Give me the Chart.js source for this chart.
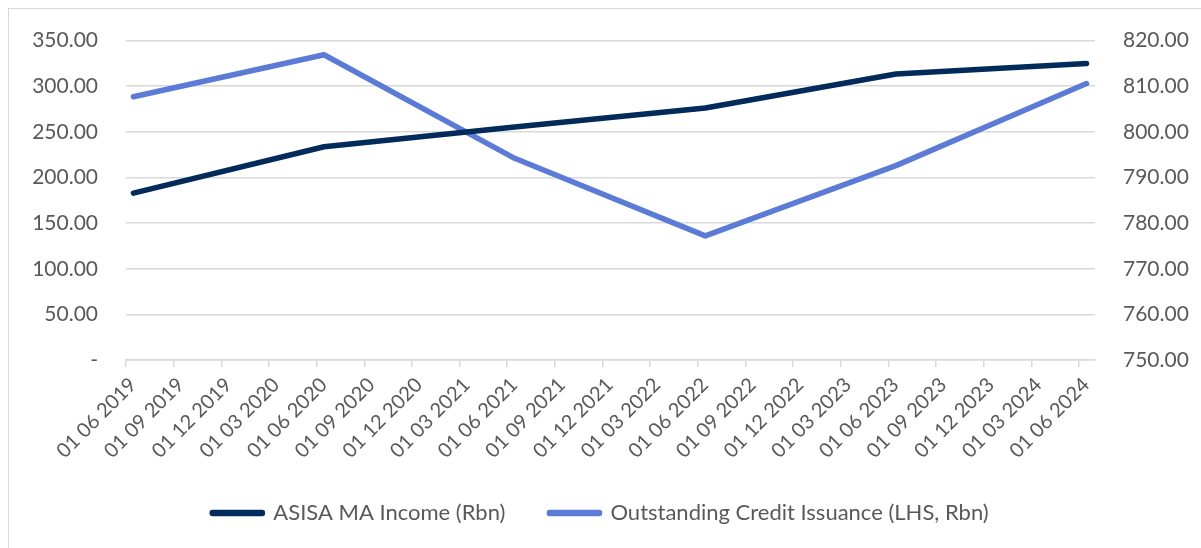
<!DOCTYPE html>
<html>
<head>
<meta charset="utf-8">
<script src="https://cdn.jsdelivr.net/npm/chart.js@4.4.1/dist/chart.umd.min.js"></script>
<style>
  html, body { margin: 0; padding: 0; background: #fff; }
  #wrap { position: relative; width: 1201px; height: 548px; overflow: hidden; }
  #frame { position: absolute; left: 8px; top: 8px; width: 1300px; height: 600px;
           border-left: 1px solid #d9d9d9; border-top: 1px solid #d9d9d9; }
  canvas { position: absolute; left: 0; top: 0; }
</style>
</head>
<body>
<div id="wrap">
  <div id="frame"></div>
  <canvas id="chart" width="1201" height="548"></canvas>
</div>
<script>
// tick labels on the x axis (quarterly)
const tickLabels = [
  "01 06 2019","01 09 2019","01 12 2019","01 03 2020","01 06 2020","01 09 2020",
  "01 12 2020","01 03 2021","01 06 2021","01 09 2021","01 12 2021","01 03 2022",
  "01 06 2022","01 09 2022","01 12 2022","01 03 2023","01 06 2023","01 09 2023",
  "01 12 2023","01 03 2024","01 06 2024"
];
// observation dates (mid-June each year)
const obsDates = ["2019-06-15","2020-06-15","2021-06-15","2022-06-15","2023-06-15","2024-06-15"];
// series values
const maIncome = [182.9, 233.7, 255.4, 276.1, 313.4, 325.0];        // left axis
const creditIssuance = [807.7, 816.9, 794.2, 777.2, 792.6, 810.6];  // right axis

const navy = "#022a5a";
const blue = "#5b7bd6";
const grey = "#595959";
const gridCol = "#d9d9d9";
const tickFont = { family: "Lato, 'Open Sans', sans-serif", size: 21 };
const xFont = { family: "Lato, 'Open Sans', sans-serif", size: 20 };
const legendFont = { family: "Lato, 'Open Sans', sans-serif", size: 22 };

// months since 1 June 2019
function monthsFrom(d){
  const [y,m,day] = d.split("-").map(Number);
  return (y-2019)*12 + (m-6) + (day-1)/30;
}
const xs = obsDates.map(monthsFrom);

const ctx = document.getElementById("chart").getContext("2d");
new Chart(ctx, {
  type: "line",
  data: {
    datasets: [{
      label: "ASISA MA Income (Rbn)",
      data: xs.map((x,i)=>({x, y: maIncome[i]})),
      borderColor: navy, backgroundColor: navy,
      borderWidth: 5.5, pointRadius: 0, tension: 0,
      borderCapStyle: "round", borderJoinStyle: "round",
      yAxisID: "yL"
    },{
      label: "Outstanding Credit Issuance (LHS, Rbn)",
      data: xs.map((x,i)=>({x, y: creditIssuance[i]})),
      borderColor: blue, backgroundColor: blue,
      borderWidth: 5.5, pointRadius: 0, tension: 0,
      borderCapStyle: "round", borderJoinStyle: "round",
      yAxisID: "yR"
    }]
  },
  options: {
    responsive: false,
    animation: false,
    layout: { padding: { top: 32, left: 0, right: 0, bottom: 14 } },
    plugins: {
      tooltip: { enabled: false },
      legend: {
        position: "bottom",
        labels: { font: legendFont, color: grey, boxWidth: 50, boxHeight: 1, padding: 44 }
      }
    },
    scales: {
      x: {
        type: "linear", min: 0, max: 61,
        afterFit: s => { s.height = 98; },
        border: { color: gridCol, width: 1.5 },
        grid: { drawOnChartArea: false, drawTicks: true, tickLength: 7, color: gridCol, lineWidth: 1.5 },
        ticks: {
          stepSize: 3, includeBounds: false, autoSkip: false,
          minRotation: 45, maxRotation: 45, font: xFont, color: grey, padding: 6,
          labelOffset: 7,
          callback: v => tickLabels[Math.round(v/3)]
        }
      },
      yL: {
        position: "left", min: 0, max: 350,
        afterFit: s => { s.width = 126; },
        border: { display: false },
        grid: { color: gridCol, lineWidth: 1.5, drawTicks: false },
        ticks: {
          stepSize: 50, font: tickFont, color: grey, padding: 28,
          callback: v => v === 0 ? "-" : v.toFixed(2)
        }
      },
      yR: {
        position: "right", min: 750, max: 820,
        afterFit: s => { s.width = 106; },
        border: { display: false },
        grid: { drawOnChartArea: false, drawTicks: false },
        ticks: {
          stepSize: 10, font: tickFont, color: grey, padding: 28,
          callback: v => v.toFixed(2)
        }
      }
    }
  }
});
</script>
</body>
</html>
